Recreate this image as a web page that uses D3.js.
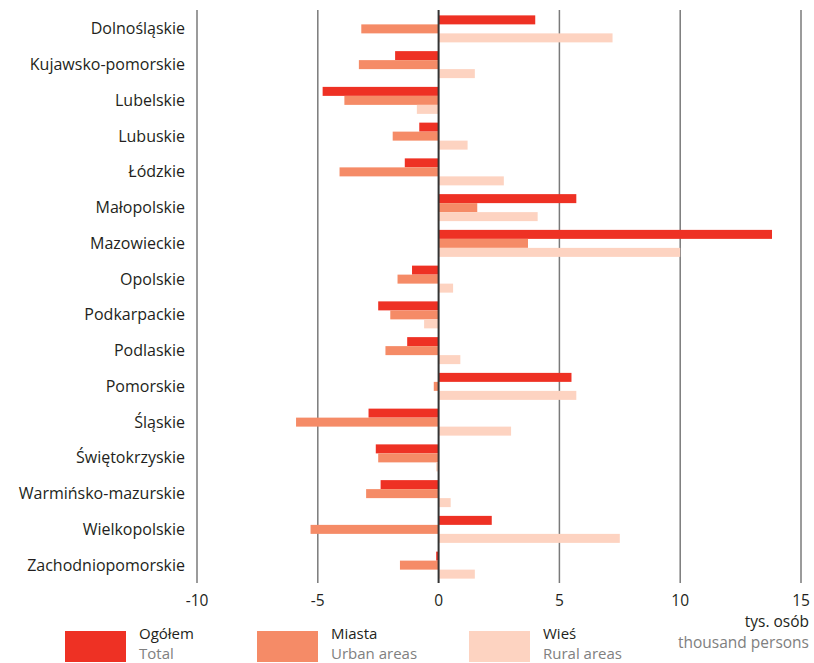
<!DOCTYPE html>
<html>
<head>
<meta charset="utf-8">
<script src="https://cdn.jsdelivr.net/npm/d3@7"></script>
<style>
  html, body { margin: 0; padding: 0; background: #fff; }
  svg { display: block; font-family: "Open Sans", "Noto Sans", sans-serif; }
</style>
</head>
<body>
<svg id="chart" width="814" height="663"></svg>
<script>
const regions = ["Dolnośląskie","Kujawsko-pomorskie","Lubelskie","Lubuskie","Łódzkie","Małopolskie","Mazowieckie","Opolskie","Podkarpackie","Podlaskie","Pomorskie","Śląskie","Świętokrzyskie","Warmińsko-mazurskie","Wielkopolskie","Zachodniopomorskie"];
const total = [4.0,-1.8,-4.8,-0.8,-1.4,5.7,13.8,-1.1,-2.5,-1.3,5.5,-2.9,-2.6,-2.4,2.2,-0.1];
const urban = [-3.2,-3.3,-3.9,-1.9,-4.1,1.6,3.7,-1.7,-2.0,-2.2,-0.2,-5.9,-2.5,-3.0,-5.3,-1.6];
const rural = [7.2,1.5,-0.9,1.2,2.7,4.1,10.0,0.6,-0.6,0.9,5.7,3.0,-0.1,0.5,7.5,1.5];
const seriesKeys = ["total","urban","rural"];
const seriesPl = ["Ogółem","Miasta","Wieś"];
const seriesEn = ["Total","Urban areas","Rural areas"];
const xTicks = [-10,-5,0,5,10,15];
const unitPl = "tys. osób";
const unitEn = "thousand persons";

const colors = {total:"#ee3124", urban:"#f58b67", rural:"#fdd3c1"};
const data = regions.map((r,i)=>({region:r,total:total[i],urban:urban[i],rural:rural[i]}));

const svg = d3.select("#chart");
const x = d3.scaleLinear().domain([-10,15]).range([197,801]);
const y = d3.scaleBand().domain(regions).range([11,583]).paddingInner(0.245).paddingOuter(0.1225);
const ys = d3.scaleBand().domain(seriesKeys).range([0,y.bandwidth()]);

// grid
svg.append("g").selectAll("line").data(xTicks.filter(t=>t!==0)).join("line")
  .attr("x1",d=>x(d)).attr("x2",d=>x(d)).attr("y1",10).attr("y2",583)
  .attr("stroke","#7a7a7a").attr("stroke-width",1.5);

// bars
const g = svg.append("g");
data.forEach(d=>{
  seriesKeys.forEach(k=>{
    const v = d[k];
    g.append("rect")
      .attr("x", x(Math.min(0,v)))
      .attr("y", y(d.region)+ys(k))
      .attr("width", Math.abs(x(v)-x(0)))
      .attr("height", ys.bandwidth())
      .attr("fill", colors[k]);
  });
});

// zero line
svg.append("line").attr("x1",x(0)).attr("x2",x(0)).attr("y1",10).attr("y2",583)
  .attr("stroke","#333").attr("stroke-width",2);

// category labels
svg.append("g").selectAll("text").data(regions).join("text")
  .attr("x",185).attr("y",d=>y(d)+y.bandwidth()/2)
  .attr("dy","0.35em").attr("text-anchor","end")
  .attr("font-size",16).attr("fill","#231f20").text(d=>d);

// x tick labels
svg.append("g").selectAll("text").data(xTicks).join("text")
  .attr("x",d=>x(d)).attr("y",606).attr("text-anchor","middle")
  .attr("font-size",15.5).attr("fill","#231f20").text(d=>d);

// unit
svg.append("text").attr("x",809).attr("y",627).attr("text-anchor","end")
  .attr("font-size",15.5).attr("fill","#231f20").text(unitPl);
svg.append("text").attr("x",809).attr("y",648).attr("text-anchor","end")
  .attr("font-size",15.5).attr("fill","#808080").text(unitEn);

// legend
const legX = [65,257,469];
seriesKeys.forEach((k,i)=>{
  svg.append("rect").attr("x",legX[i]).attr("y",631).attr("width",61).attr("height",31).attr("fill",colors[k]);
  svg.append("text").attr("x",legX[i]+74).attr("y",639).attr("font-size",15).attr("fill","#231f20").text(seriesPl[i]);
  svg.append("text").attr("x",legX[i]+74).attr("y",659).attr("font-size",15).attr("fill","#808080").text(seriesEn[i]);
});
</script>
</body>
</html>
